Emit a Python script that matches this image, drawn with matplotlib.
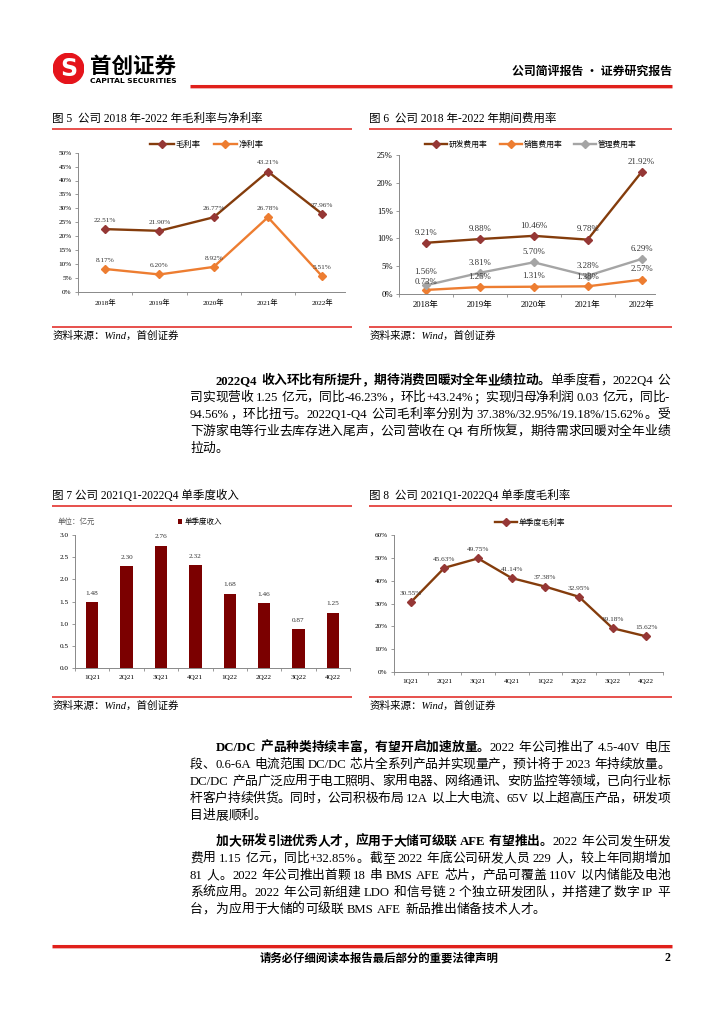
import re
import matplotlib
matplotlib.use('Agg')
import matplotlib.pyplot as plt
from matplotlib.lines import Line2D
from matplotlib.patches import Circle
from matplotlib.font_manager import FontProperties
from matplotlib.ticker import FuncFormatter, MultipleLocator

W, H, DPI = 724, 1024, 100
SERIF = ['Liberation Serif', 'Noto Sans CJK SC']
SANS = ['Noto Sans CJK SC', 'DejaVu Sans']
RED = '#E0201B'
BROWN = '#843C0C'
MARK = '#953735'
ORANGE = '#ED7D31'
GREY = '#A5A5A5'
plt.rcParams['font.family'] = SERIF

# ---- data ----
years = ['2018年', '2019年', '2020年', '2021年', '2022年']
gross_margin = [22.51, 21.90, 26.77, 43.21, 27.96]
net_margin = [8.17, 6.20, 8.92, 26.78, 5.51]

rd_rate = [9.21, 9.88, 10.46, 9.78, 21.92]
sales_rate = [0.73, 1.25, 1.31, 1.38, 2.57]
admin_rate = [1.56, 3.81, 5.70, 3.28, 6.29]

quarters = ['1Q21', '2Q21', '3Q21', '4Q21', '1Q22', '2Q22', '3Q22', '4Q22']
q_revenue = [1.48, 2.30, 2.76, 2.32, 1.68, 1.46, 0.87, 1.25]
q_gross = [30.55, 45.63, 49.75, 41.14, 37.38, 32.95, 19.18, 15.62]

para1 = [
  [('2022Q4 收入环比有所提升，期待消费回暖对全年业绩拉动。', True), ('单季度看，2022Q4 公', False)],
  [('司实现营收 1.25 亿元，同比-46.23%，环比+43.24%；实现归母净利润 0.03 亿元，同比-', False)],
  [('94.56%，环比扭亏。2022Q1-Q4 公司毛利率分别为 37.38%/32.95%/19.18%/15.62%。受', False)],
  [('下游家电等行业去库存进入尾声，公司营收在 Q4 有所恢复，期待需求回暖对全年业绩', False)],
  [('拉动。', False)],
]
para2 = [
  [('DC/DC 产品种类持续丰富，有望开启加速放量。', True), ('2022 年公司推出了 4.5-40V 电压', False)],
  [('段、0.6-6A 电流范围 DC/DC 芯片全系列产品并实现量产，预计将于 2023 年持续放量。', False)],
  [('DC/DC 产品广泛应用于电工照明、家用电器、网络通讯、安防监控等领域，已向行业标', False)],
  [('杆客户持续供货。同时，公司积极布局 12A 以上大电流、65V 以上超高压产品，研发项', False)],
  [('目进展顺利。', False)],
]
para3 = [
  [('加大研发引进优秀人才，应用于大储可级联 AFE 有望推出。', True), ('2022 年公司发生研发', False)],
  [('费用 1.15 亿元，同比+32.85%。截至 2022 年底公司研发人员 229 人，较上年同期增加', False)],
  [('81 人。2022 年公司推出首颗 18 串 BMS AFE 芯片，产品可覆盖 110V 以内储能及电池', False)],
  [('系统应用。2022 年公司新组建 LDO 和信号链 2 个独立研发团队，并搭建了数字 IP 平', False)],
  [('台，为应用于大储的可级联 BMS AFE 新品推出储备技术人才。', False)],
]

fig = plt.figure(figsize=(W / DPI, H / DPI), dpi=DPI)
renderer = fig.canvas.get_renderer()


def fx(x):
  return x / W


def fy(y):
  return 1 - y / H


def hline(x0, x1, y, color=RED, lw=1.2):
  fig.add_artist(Line2D([fx(x0), fx(x1)], [fy(y), fy(y)], color=color, lw=lw,
                        transform=fig.transFigure, solid_capstyle='butt'))


def ftext(x, y, s, **kw):
  return fig.text(fx(x), fy(y), s, **kw)


def add_ax(l, t, r, b):
  return fig.add_axes([fx(l), fy(b), (r - l) / W, (b - t) / H])


def put_line(segs, x0, y, width=None, fs=9.2):
  # lay out one justified line token by token
  em = fs * DPI / 72
  toks = []
  for txt, bold in segs:
    for t in re.findall(r'[!-~]+| |.', txt):
      toks.append((t, bold))
  arts, widths = [], []
  for t, bold in toks:
    if t == ' ':
      arts.append(None)
      widths.append(0.25 * em)
      continue
    a = fig.text(0, 0, t, fontsize=fs, family=SERIF, va='baseline', ha='left',
                 fontweight='bold' if bold else 'normal')
    if ord(t[0]) > 127:
      w = em
    else:
      w = a.get_window_extent(renderer).width + 0.06 * em
    arts.append(a)
    widths.append(w)
  extra = 0
  if width is not None and len(toks) > 1:
    extra = (width - sum(widths)) / (len(toks) - 1)
  x = x0
  for a, w in zip(arts, widths):
    if a is not None:
      a.set_position((fx(x), fy(y)))
    x += w + extra


def put_para(lines, y0, step=17.0, left=190, right=670, indent=26):
  for i, segs in enumerate(lines):
    last = i == len(lines) - 1
    x0 = left + (indent if i == 0 else 0)
    put_line(segs, x0, y0 + i * step, None if last else right - x0)


def style_ax(ax, n, tickfs):
  for s in ['top', 'right']:
    ax.spines[s].set_visible(False)
  for s in ['left', 'bottom']:
    ax.spines[s].set_color('#898989')
    ax.spines[s].set_linewidth(0.7)
  ax.set_xticks(range(n))
  ax.set_xticks([i + 0.5 for i in range(-1, n)], minor=True)
  ax.tick_params(axis='x', which='major', length=0, pad=5, labelsize=tickfs)
  ax.tick_params(axis='x', which='minor', length=2.5, color='#898989', width=0.6)
  ax.tick_params(axis='y', length=2.5, color='#898989', width=0.6, labelsize=tickfs, pad=2)
  ax.set_facecolor('none')


def pct_fmt(v, _):
  return f'{v:.0f}%'


def chart_frame(x0, x1, ytitle, title, ybot):
  ftext(x0, ytitle, title, fontsize=8.3, family=SERIF, va='center', ha='left')
  hline(x0, x1, ytitle + 9.5, lw=1.1)
  hline(x0, x1, ybot, lw=1.1)
  ftext(x0 + 1, ybot + 9, '资料来源：Wind，首创证券', fontsize=7.6, family=SERIF,
        style='italic', va='center', ha='left')


def line_series(ax, vals, color, mcolor, label, fs, dy=None):
  xs = range(len(vals))
  ax.plot(xs, vals, color=color, lw=1.7, marker='D', ms=3.6, mfc=mcolor, mec=mcolor, label=label)
  for i, (x, v) in enumerate(zip(xs, vals)):
    off = 4.5 if dy is None else dy[i]
    ax.annotate(f'{v:.2f}%', (x, v), xytext=(0, off), textcoords='offset points',
                ha='center', va='bottom', fontsize=fs, family=SERIF, color='#333333')


# ---- header ----
logo = fig.add_axes([fx(53), fy(84), 31 / W, 31 / H])
logo.set_xlim(-1, 1)
logo.set_ylim(-1, 1)
logo.axis('off')
logo.add_patch(Circle((0, 0), 0.98, color='#E5141B'))
logo.text(0.02, -0.05, 'S', color='white', fontsize=17, fontweight='bold',
          family='DejaVu Sans', ha='center', va='center')
ftext(90, 66, '首创证券', fontsize=15.5, family=SANS, fontweight='bold', va='center', ha='left')
ftext(90, 81, 'CAPITAL SECURITIES', fontsize=5.4, family='DejaVu Sans', fontweight='bold',
      va='center', ha='left')
ftext(672, 71, '公司简评报告 · 证券研究报告', fontsize=8.6, family=SANS, fontweight='bold',
      va='center', ha='right')
hline(190, 672, 86, lw=2.2)
hline(190, 672, 88.3, color='#F2A0A0', lw=0.6)

# ---- figure 5 ----
chart_frame(52, 352, 119, '图 5  公司 2018 年-2022 年毛利率与净利率', 327)
ax = add_ax(78, 152.7, 345, 291.7)
line_series(ax, gross_margin, BROWN, MARK, '毛利率', 5.2)
line_series(ax, net_margin, ORANGE, ORANGE, '净利率', 5.2)
style_ax(ax, len(years), 5.2)
ax.set_xticklabels(years)
ax.set_xlim(-0.5, 4.42)
ax.set_ylim(0, 50)
ax.yaxis.set_major_locator(MultipleLocator(5))
ax.yaxis.set_major_formatter(FuncFormatter(pct_fmt))
ax.legend(loc='center', bbox_to_anchor=(fx(207), fy(144)), bbox_transform=fig.transFigure,
          ncol=2, frameon=False, prop=FontProperties(family=SANS, size=6),
          handlelength=2.8, handletextpad=0.2, columnspacing=1.6, borderpad=0)

# ---- figure 6 ----
chart_frame(369, 672, 119, '图 6  公司 2018 年-2022 年期间费用率', 327)
ax = add_ax(399, 155, 655, 294)
line_series(ax, rd_rate, BROWN, MARK, '研发费用率', 6.3)
line_series(ax, sales_rate, ORANGE, ORANGE, '销售费用率', 6.3, dy=[2.5, 4.5, 4.5, 3.5, 4.5])
line_series(ax, admin_rate, GREY, GREY, '管理费用率', 6.3, dy=[6.5, 4.5, 4.5, 4.5, 4.5])
style_ax(ax, len(years), 6.2)
ax.set_xticklabels(years)
ax.set_xlim(-0.5, 4.25)
ax.set_ylim(0, 25)
ax.yaxis.set_major_locator(MultipleLocator(5))
ax.yaxis.set_major_formatter(FuncFormatter(pct_fmt))
ax.legend(loc='center', bbox_to_anchor=(fx(531), fy(145)), bbox_transform=fig.transFigure,
          ncol=3, frameon=False, prop=FontProperties(family=SANS, size=5.6),
          handlelength=2.8, handletextpad=0.2, columnspacing=1.6, borderpad=0)

# ---- paragraph 1 ----
put_para(para1, 384)

# ---- figure 7 ----
chart_frame(52, 352, 496, '图 7 公司 2021Q1-2022Q4 单季度收入', 697)
ax = add_ax(75, 535, 350, 668)
ax.bar(range(len(quarters)), q_revenue, width=0.36, color='#7B0000', label='单季度收入')
for x, v in zip(range(len(quarters)), q_revenue):
  ax.annotate(f'{v:.2f}', (x, v), xytext=(0, 4.5), textcoords='offset points',
              ha='center', va='bottom', fontsize=5.2, family=SERIF, color='#333333')
style_ax(ax, len(quarters), 5.2)
ax.set_xticklabels(quarters)
ax.set_xlim(-0.5, 7.5)
ax.set_ylim(0, 3)
ax.yaxis.set_major_locator(MultipleLocator(0.5))
ax.yaxis.set_major_formatter(FuncFormatter(lambda v, _: f'{v:.1f}'))
ax.legend(loc='center', bbox_to_anchor=(fx(200), fy(522)), bbox_transform=fig.transFigure,
          frameon=False, prop=FontProperties(family=SANS, size=5.4),
          handlelength=0.6, handleheight=0.6, handletextpad=0.3, borderpad=0)
ftext(58, 522, '单位：亿元', fontsize=5.4, family=SANS, color='#595959', va='center', ha='left')

# ---- figure 8 ----
chart_frame(369, 672, 496, '图 8  公司 2021Q1-2022Q4 单季度毛利率', 697)
ax = add_ax(394, 535, 663, 672)
line_series(ax, q_gross, BROWN, MARK, '单季度毛利率', 5.2)
style_ax(ax, len(quarters), 5.2)
ax.set_xticklabels(quarters)
ax.set_xlim(-0.5, 7.5)
ax.set_ylim(0, 60)
ax.yaxis.set_major_locator(MultipleLocator(10))
ax.yaxis.set_major_formatter(FuncFormatter(pct_fmt))
ax.legend(loc='center', bbox_to_anchor=(fx(530), fy(523)), bbox_transform=fig.transFigure,
          frameon=False, prop=FontProperties(family=SANS, size=5.6),
          handlelength=2.8, handletextpad=0.2, borderpad=0)

# ---- paragraphs 2 and 3 ----
put_para(para2, 751)
put_para(para3, 751 + 5 * 17.0 + 9)

# ---- footer ----
hline(52, 672, 946, lw=2.2)
hline(52, 672, 948.3, color='#F2A0A0', lw=0.6)
ftext(379, 958, '请务必仔细阅读本报告最后部分的重要法律声明', fontsize=8.2, family=SANS,
      fontweight='bold', va='center', ha='center')
ftext(670, 958, '2', fontsize=8.6, family=SERIF, fontweight='bold', va='center', ha='right')

fig.savefig('out.png', dpi=DPI)
